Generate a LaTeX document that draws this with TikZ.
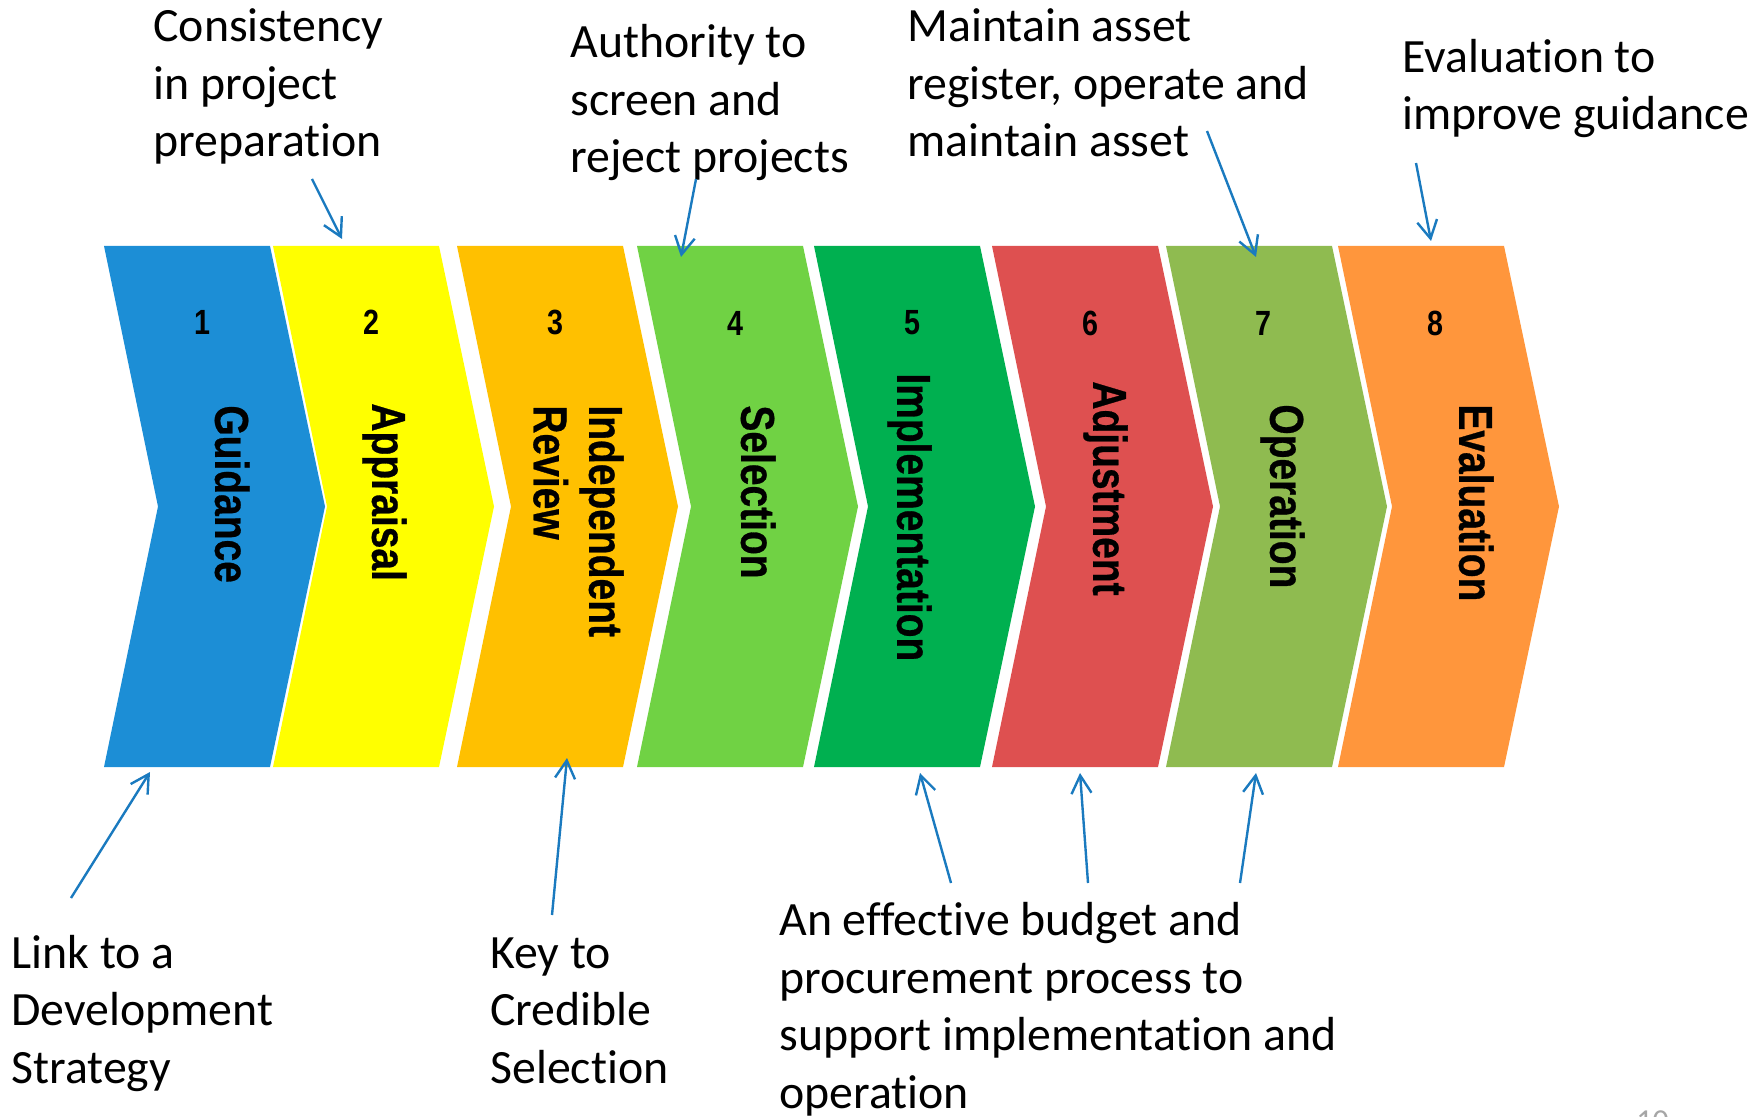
\documentclass[tikz,border=0pt]{standalone}
\usepackage{fontspec}
\setmainfont{Carlito}[Ligatures=NoCommon]
\newfontfamily\narrowsans[FakeStretch=0.82]{Liberation Sans}
\newfontfamily\narrowbold[FakeStretch=0.82,FakeBold=0.6]{Liberation Sans Bold}
\usetikzlibrary{arrows.meta}

\definecolor{stepblue}{HTML}{1C8ED6}
\definecolor{stepyellow}{HTML}{FFFF00}
\definecolor{steporange}{HTML}{FFC000}
\definecolor{steplime}{HTML}{70D244}
\definecolor{stepgreen}{HTML}{00B050}
\definecolor{stepred}{HTML}{DE5050}
\definecolor{stepolive}{HTML}{8FBB50}
\definecolor{steppeach}{HTML}{FF963C}
\definecolor{arrowblue}{HTML}{1A7ABF}
\definecolor{pagegray}{HTML}{A6A6A6}

\tikzset{
  note/.style={anchor=base west, align=left, inner sep=0pt,
    font=\fontsize{23.9}{28.75}\selectfont},
  stepnum/.style={inner sep=0pt, font=\narrowsans\bfseries\fontsize{17.5}{20}\selectfont},
  steplabel/.style={rotate=-90, anchor=north west, align=left, inner sep=0pt,
    font=\narrowbold\fontsize{23.75}{27.75}\selectfont},
  pointer/.style={draw=arrowblue, line width=1.2pt,
    -{Straight Barb[length=9pt,width=10pt]}},
}

\begin{document}
\begin{tikzpicture}[x=0.5pt,y=-0.5pt]
  \useasboundingbox (0,0) rectangle (1759,1117);

  % the eight chevrons
  \fill[stepblue]   (104,246)  -- ++(166,0) -- ++(55,260.5) -- ++(-55,260.5) -- ++(-166,0) -- ++(54,-260.5) -- cycle;
  \fill[stepyellow] (273,246)  -- ++(166,0) -- ++(55,260.5) -- ++(-55,260.5) -- ++(-166,0) -- ++(54,-260.5) -- cycle;
  \fill[steporange] (457,246)  -- ++(166,0) -- ++(55,260.5) -- ++(-55,260.5) -- ++(-166,0) -- ++(54,-260.5) -- cycle;
  \fill[steplime]   (637,246)  -- ++(166,0) -- ++(55,260.5) -- ++(-55,260.5) -- ++(-166,0) -- ++(54,-260.5) -- cycle;
  \fill[stepgreen]  (814,246)  -- ++(166,0) -- ++(55,260.5) -- ++(-55,260.5) -- ++(-166,0) -- ++(54,-260.5) -- cycle;
  \fill[stepred]    (992,246)  -- ++(166,0) -- ++(55,260.5) -- ++(-55,260.5) -- ++(-166,0) -- ++(54,-260.5) -- cycle;
  \fill[stepolive]  (1166,246) -- ++(166,0) -- ++(55,260.5) -- ++(-55,260.5) -- ++(-166,0) -- ++(54,-260.5) -- cycle;
  \fill[steppeach]  (1338,246) -- ++(166,0) -- ++(55,260.5) -- ++(-55,260.5) -- ++(-166,0) -- ++(54,-260.5) -- cycle;

  % step numbers
  \node[stepnum] (n1) at (202,322) {1};
  \node[stepnum] (n2) at (371,322) {2};
  \node[stepnum] (n3) at (555,322) {3};
  \node[stepnum] (n4) at (735,323) {4};
  \node[stepnum] (n5) at (912,323) {5};
  \node[stepnum] (n6) at (1090,323) {6};
  \node[stepnum] (n7) at (1263,323) {7};
  \node[stepnum] (n8) at (1435,323) {8};

  % step names, written downwards
  \node[steplabel] (guidance) at (250,405) {Guidance};
  \node[steplabel] (appraisal) at (407,403) {Appraisal};
  \node[steplabel] (review) at (624,405) {Independent\\Review};
  \node[steplabel] (selection) at (776,405) {Selection};
  \node[steplabel] (implement) at (932,373) {Implementation};
  \node[steplabel] (adjust) at (1128,381) {Adjustment};
  \node[steplabel] (operation) at (1305,404) {Operation};
  \node[steplabel] (evaluation) at (1494,404) {Evaluation};

  % notes above (placed by their last line)
  \node[note] (consistency) at (153,157) {Consistency\\in project\\preparation};
  \node[note] (authority) at (570,173) {Authority to\\screen and\\reject projects};
  \node[note] (register) at (907,157) {Maintain asset\\register, operate and\\maintain asset};
  \node[note] (improve) at (1402,130) {Evaluation to\\improve guidance};

  % notes below
  \node[note] (link) at (11,1083) {Link to a\\Development\\Strategy};
  \node[note] (credible) at (490,1083) {Key to\\Credible\\Selection};
  \node[note] (budget) at (779,1108) {An effective budget and\\procurement process to\\support implementation and\\operation};

  \node[anchor=base west, inner sep=0pt, text=pagegray, font=\fontsize{16}{19}\selectfont] (page) at (1636,1131) {10};

  % arrow ends
  \coordinate (consistency tail) at (312,179);
  \coordinate (consistency head) at (342,239);
  \coordinate (authority tail) at (696,179);
  \coordinate (authority head) at (681,257);
  \coordinate (register tail) at (1207,131);
  \coordinate (register head) at (1256,257);
  \coordinate (improve tail) at (1416,163);
  \coordinate (improve head) at (1431,241);
  \coordinate (link tail) at (71,898);
  \coordinate (link head) at (150,772);
  \coordinate (credible tail) at (552,915);
  \coordinate (credible head) at (567,758);
  \coordinate (budget tail a) at (951,883);
  \coordinate (budget head a) at (920,773);
  \coordinate (budget tail b) at (1088,883);
  \coordinate (budget head b) at (1080,773);
  \coordinate (budget tail c) at (1240,883);
  \coordinate (budget head c) at (1256,773);

  \begin{scope}[pointer]
    \draw (consistency tail) to (consistency head);
    \draw (authority tail) to (authority head);
    \draw (register tail) to (register head);
    \draw (improve tail) to (improve head);
    \draw (link tail) to (link head);
    \draw (credible tail) to (credible head);
    \draw (budget tail a) to (budget head a);
    \draw (budget tail b) to (budget head b);
    \draw (budget tail c) to (budget head c);
  \end{scope}
\end{tikzpicture}
\end{document}
